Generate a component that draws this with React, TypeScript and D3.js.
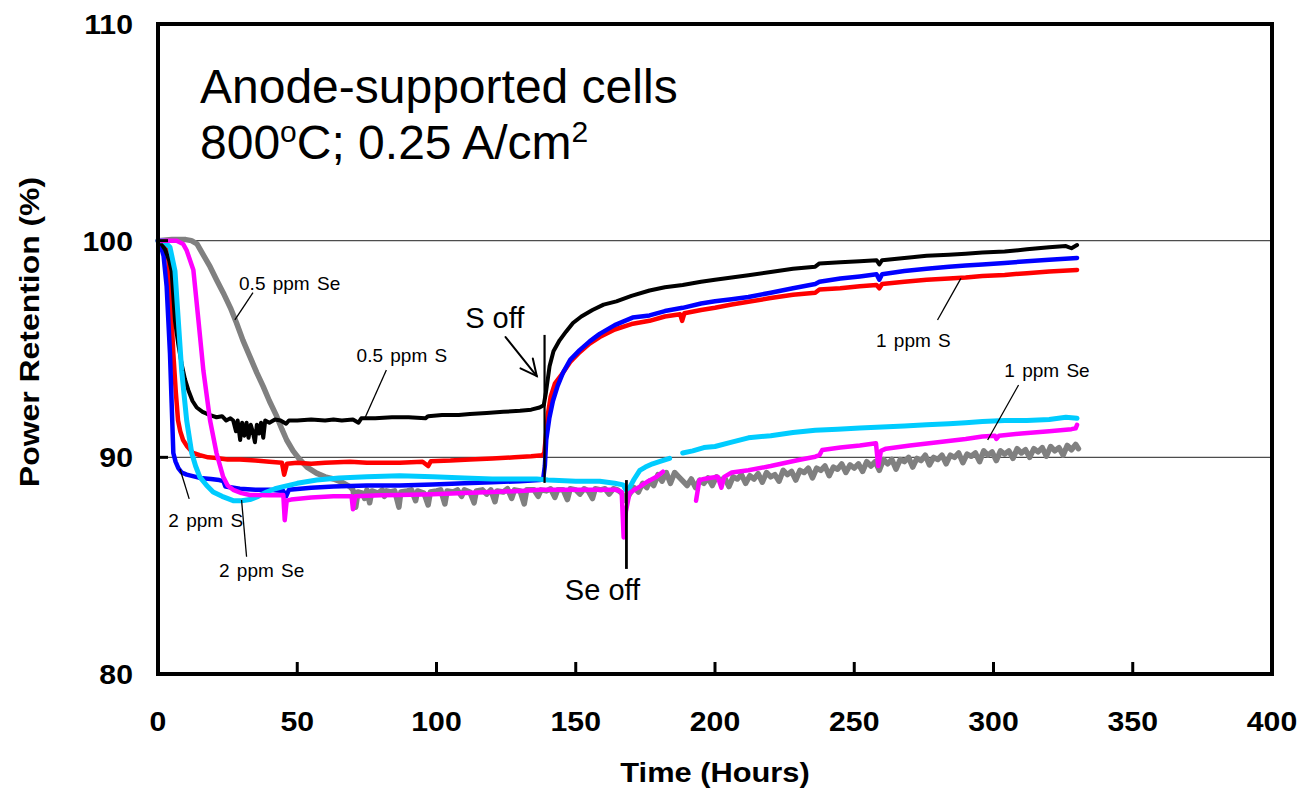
import React from 'react';
import * as d3 from 'd3';

type Pt = [number, number] | null;

// Axis ticks
const xTickValues = [0, 50, 100, 150, 200, 250, 300, 350, 400];
const yTickValues = [80, 90, 100, 110];
const gridValues = [90, 100];

// 0.5 ppm S (black)
const s05: Pt[] = [
  [0, 100], [1, 99.9], [2.5, 99.6], [4, 99.1], [4.9, 98.6], [6.1, 96.3], [7.3, 95.2], [8.5, 94.3], [9.7, 93.6],
  [10.9, 93.1], [12.4, 92.6], [13.9, 92.3], [16, 92.1], [18.7, 91.95], [21, 91.85], [23, 91.9], [24.5, 91.7],
  [26, 91.8], [27, 91.7], [28, 91.2], [28.6, 91.7], [29.5, 90.8], [30.2, 91.6], [31, 91.0], [31.8, 91.6],
  [32.5, 90.9], [33.3, 91.5], [34, 91.2], [34.8, 90.7], [35.5, 91.5], [36.3, 91.1], [37, 91.6], [37.8, 90.9],
  [38.5, 91.7], [40, 91.6], [42, 91.75], [44, 91.7], [46, 91.55], [47, 91.7], [50, 91.7], [55, 91.75],
  [60, 91.7], [63, 91.75], [66, 91.7], [70, 91.75], [72, 91.6], [73, 91.8], [78, 91.8], [84, 91.85],
  [90, 91.85], [96, 91.8], [97, 91.9], [102, 91.95], [108, 91.95], [112, 92.0], [118, 92.05], [124, 92.1],
  [130, 92.15], [134, 92.2], [137, 92.3], [138.5, 92.4], [139.3, 93.0], [140.6, 94.2], [142, 94.9],
  [144.2, 95.4], [146.5, 95.8], [149, 96.2], [152, 96.5], [156, 96.8], [160, 97.05], [164.6, 97.2],
  [170, 97.45], [176.5, 97.7], [182, 97.85], [188.4, 97.95], [195, 98.1], [200, 98.2], [206, 98.3],
  [212, 98.4], [220, 98.55], [228, 98.7], [236, 98.8], [237.5, 98.95], [245, 99.0], [252, 99.05],
  [258, 99.1], [259, 98.9], [260, 99.1], [268, 99.2], [276, 99.3], [284, 99.35], [290, 99.4], [296, 99.45],
  [304, 99.5], [312, 99.6], [320, 99.7], [326, 99.75], [328, 99.65], [330, 99.8],
];

// 1 ppm S (red)
const s1: Pt[] = [
  [0, 100], [1, 99.95], [2.5, 99.7], [3.6, 99.4], [4.3, 97.9], [5.5, 94.8], [6.4, 93.0], [7.2, 91.7],
  [8, 91.2], [9, 90.8], [10.5, 90.5], [12.6, 90.2], [15, 90.1], [18, 90.0], [21, 89.97], [25, 89.9],
  [29.4, 89.9], [35, 89.85], [40, 89.8], [44.5, 89.75], [45.3, 89.2], [46.3, 89.7], [50, 89.75], [55, 89.7],
  [60, 89.75], [69, 89.8], [75, 89.75], [80, 89.75], [86.8, 89.75], [95, 89.8], [97, 89.6], [98, 89.82],
  [105, 89.85], [112, 89.9], [120, 89.95], [128, 90.0], [134, 90.05], [138, 90.1], [138.7, 90.2],
  [139.3, 91.0], [140, 92.0], [141, 92.8], [142.5, 93.4], [145.4, 93.9], [148, 94.4], [151.4, 94.85],
  [155, 95.25], [158.6, 95.55], [164, 95.9], [170, 96.15], [176.5, 96.3], [182, 96.5], [187.5, 96.6],
  [188.2, 96.3], [189, 96.65], [195, 96.8], [200, 96.9], [206, 97.05], [212, 97.18], [220, 97.35],
  [228, 97.5], [236, 97.6], [237.5, 97.75], [245, 97.8], [252, 97.9], [258, 97.95], [259, 97.8],
  [260, 98.0], [268, 98.1], [276, 98.2], [284, 98.25], [290, 98.3], [296, 98.37], [304, 98.42],
  [312, 98.5], [320, 98.58], [330, 98.65],
];

// 2 ppm S (blue)
const s2: Pt[] = [
  [0, 100], [0.7, 99.9], [2, 99.3], [3.1, 97.9], [4.3, 94.8], [4.9, 92.5], [5.5, 90.2], [6.3, 89.8],
  [7.3, 89.5], [8.5, 89.3], [10.3, 89.2], [15, 89.05], [19, 89.0], [22, 88.95], [23.5, 88.9], [24.2, 88.65],
  [29.4, 88.55], [35, 88.5], [40, 88.5], [45, 88.45], [46, 88.2], [47, 88.5], [55, 88.6], [63, 88.65],
  [75, 88.7], [86.8, 88.7], [98.7, 88.75], [110, 88.8], [120, 88.85], [130, 88.9], [137, 88.95],
  [138.3, 89.0], [138.9, 89.6], [139.4, 90.8], [140.5, 91.8], [141.8, 92.6], [143.5, 93.3], [145.4, 93.9],
  [148, 94.5], [151.4, 94.95], [155, 95.35], [158.6, 95.7], [164, 96.1], [170.4, 96.45], [176.5, 96.55],
  [182, 96.75], [188.4, 96.9], [195, 97.1], [200, 97.2], [206, 97.3], [212, 97.4], [220, 97.6], [228, 97.8],
  [236, 98.0], [237.5, 98.1], [245, 98.25], [252, 98.35], [258, 98.45], [259, 98.2], [260, 98.45],
  [268, 98.6], [276, 98.7], [284, 98.8], [290, 98.85], [296, 98.9], [304, 98.97], [312, 99.05],
  [320, 99.12], [330, 99.2],
];

// 0.5 ppm Se (gray)
const se05: Pt[] = [
  [0, 100.0], [5, 100.05], [10, 100.05], [12, 100.0], [14, 99.85], [16, 99.4], [18.7, 98.8], [21, 98.2],
  [23.4, 97.6], [26, 96.9], [28.2, 96.2], [30.5, 95.4], [33, 94.65], [35.5, 93.9], [37.8, 93.26], [40, 92.6],
  [42.6, 91.9], [44.5, 91.3], [46.2, 90.8], [48.5, 90.3], [50.9, 89.9], [53.5, 89.55], [56.9, 89.27],
  [60, 89.1], [63, 89.0], [66, 88.85], [68.9, 88.65], [70, 88.5], [71, 87.7], [71.8, 88.4], [73.5, 88.35],
  [74.2, 88.1], [75, 88.5], [76, 87.9], [76.8, 88.45], [79, 88.35], [80.5, 88.5], [81.3, 88.2], [82, 88.45],
  [83.5, 88.4], [85, 88.45], [86.5, 87.7], [87.2, 88.4], [89.5, 88.45], [91, 88.5], [92.5, 88.0],
  [93.2, 88.45], [95.5, 88.35], [97, 87.8], [97.8, 88.4], [100, 88.45], [101.5, 88.5], [103, 87.85],
  [103.8, 88.45], [106, 88.4], [107.5, 88.5], [109, 88.2], [110, 88.5], [112, 88.4], [113.5, 87.9],
  [114.3, 88.45], [116.5, 88.5], [118, 88.3], [119.5, 88.5], [121, 87.95], [121.8, 88.45], [124, 88.4],
  [125.5, 88.55], [127, 88.1], [128, 88.5], [130, 88.45], [131.5, 87.85], [132.4, 88.5], [135, 88.5],
  [136.5, 88.2], [137.5, 88.5], [139.5, 88.45], [141, 88.55], [142.5, 88.15], [143.5, 88.5], [145.5, 88.5],
  [147, 88.05], [148, 88.55], [150, 88.5], [151.5, 88.3], [153, 88.55], [154.5, 88.45], [156, 88.1],
  [157, 88.55], [159, 88.5], [160.5, 88.55], [162, 88.3], [163.5, 88.55], [165, 88.5], [166.5, 88.35],
  [168, 88.0], [169.3, 88.3], [171, 88.6], [172.5, 88.4], [174, 88.8], [175.5, 88.6], [176.5, 88.9],
  [178, 88.7], [179.5, 89.2], [181, 88.9], [182.5, 89.3], [184, 88.8], [185.5, 89.3], [187, 89.1],
  [190, 88.7], [191.5, 89.0], [193, 88.6], [194.5, 88.95], [196, 88.8], [197.5, 89.05], [199, 88.7],
  [200.5, 89.1], [202, 88.95], [203.5, 89.05], [205, 88.65], [206.5, 89.1], [208, 89.0], [209.5, 89.2],
  [211, 88.8], [212.5, 89.15], [214, 89.0], [215.5, 89.25], [217, 88.85], [218.5, 89.3], [220, 89.1],
  [221.5, 89.2], [223, 88.9], [224.5, 89.4], [226, 89.2], [227.5, 89.35], [229, 88.95], [230.5, 89.4],
  [232, 89.3], [233.5, 89.5], [235, 89.05], [236.5, 89.5], [238, 89.4], [239.5, 89.6], [241, 89.15],
  [242.5, 89.55], [244, 89.45], [245.5, 89.7], [247, 89.3], [248.5, 89.65], [250, 89.5], [251.5, 89.7],
  [253, 89.35], [254.5, 89.8], [256, 89.6], [257.5, 89.8], [259, 89.4], [260.5, 89.9], [262, 89.7],
  [263.5, 89.9], [265, 89.45], [266.5, 89.9], [268, 89.8], [269.5, 90.0], [271, 89.55], [272.5, 89.95],
  [274, 89.85], [275.5, 90.1], [277, 89.65], [278.5, 90.0], [280, 89.9], [281.5, 90.1], [283, 89.7],
  [284.5, 90.1], [286, 90.0], [287.5, 90.2], [289, 89.75], [290.5, 90.15], [292, 90.05], [293.5, 90.2],
  [295, 89.8], [296.5, 90.3], [298, 90.1], [299.5, 90.25], [301, 89.85], [302.5, 90.3], [304, 90.15],
  [305.5, 90.3], [307, 89.95], [308.5, 90.4], [310, 90.2], [311.5, 90.35], [313, 90.0], [314.5, 90.4],
  [316, 90.25], [317.5, 90.45], [319, 90.05], [320.5, 90.5], [322, 90.3], [323.5, 90.45], [325, 90.1],
  [326.5, 90.55], [328, 90.35], [329.5, 90.6], [330.5, 90.4],
];

// 1 ppm Se (magenta) - data gap between the two segments
const se1: Pt[] = [
  [0, 100], [3, 100.0], [6.7, 100.0], [9, 99.85], [10.3, 99.55], [12.7, 98.65], [14.5, 96.35],
  [16.3, 94.0], [18.7, 91.7], [21, 90.2], [23.4, 89.1], [25, 88.7], [27, 88.5], [30, 88.35], [33, 88.26],
  [40, 88.25], [45, 88.26], [45.5, 87.1], [46.2, 88.0], [47.8, 88.05], [55, 88.15], [63, 88.2],
  [69.5, 88.2], [70, 87.6], [70.8, 88.2], [80, 88.25], [86.8, 88.26], [98.7, 88.3], [110, 88.35],
  [120, 88.4], [130, 88.45], [137, 88.5], [150, 88.5], [160, 88.5], [164.5, 88.5], [166.5, 88.4],
  [167.2, 86.3], [168, 87.5], [169.3, 88.35], [171, 88.5], [173, 88.65], [176, 88.9], [179, 89.1],
  [181.3, 89.34],
  null,
  [193.2, 88.0], [194.4, 88.95], [196, 89.0], [198, 89.05], [201, 89.1], [202.3, 88.6], [203.3, 89.1],
  [206, 89.3], [212, 89.4], [220, 89.6], [230, 89.88], [236, 90.03], [237.5, 90.1], [238.5, 90.34],
  [245, 90.45], [252, 90.55], [257.8, 90.65], [258.6, 89.6], [259.6, 90.3], [261.4, 90.4], [270, 90.55],
  [280, 90.7], [290, 90.85], [296, 90.96], [300.5, 91.0], [301, 90.85], [302, 91.0], [310, 91.1],
  [320, 91.2], [328, 91.3], [329.5, 91.34], [330, 91.5],
];

// 2 ppm Se (cyan) - data gap between the two segments
const se2: Pt[] = [
  [0, 100], [2, 100], [4.3, 99.7], [6.1, 98.6], [7.3, 96.3], [8.5, 94.0], [10.3, 91.7], [12.1, 90.2],
  [13.5, 89.6], [15, 89.1], [17.5, 88.7], [19.8, 88.4], [23, 88.2], [27, 88.0], [30, 88.0], [33, 88.05],
  [36, 88.2], [39, 88.4], [42, 88.55], [45, 88.65], [50, 88.8], [57, 88.95], [65, 89.05], [75, 89.1],
  [86.8, 89.15], [98.7, 89.1], [110, 89.05], [120, 89.0], [130, 89.0], [136, 89.0], [140, 88.95],
  [150, 88.9], [158.6, 88.9], [164, 88.8], [167, 88.73], [168, 88.5], [169.3, 88.6], [171, 89.0],
  [173, 89.4], [175, 89.55], [177.6, 89.7], [180, 89.8], [183.7, 89.95],
  null,
  [188.4, 90.2], [192, 90.3], [196, 90.45], [200, 90.5], [206, 90.7], [212, 90.9], [220, 91.0],
  [228, 91.15], [236, 91.25], [244, 91.3], [252, 91.35], [260, 91.4], [268, 91.45], [276, 91.5],
  [284, 91.55], [290, 91.6], [296, 91.65], [304, 91.7], [312, 91.7], [320, 91.75], [326, 91.85],
  [330, 91.8],
];

// Series in drawing order (later ones on top)
const seriesList = [
  { key: 'se05', data: se05, color: '#808080', width: 5.5 },
  { key: 's1', data: s1, color: '#ff0000', width: 4.5 },
  { key: 's2', data: s2, color: '#0000ff', width: 4.5 },
  { key: 's05', data: s05, color: '#000000', width: 4 },
  { key: 'se2', data: se2, color: '#00ccff', width: 5 },
  { key: 'se1', data: se1, color: '#ff00ff', width: 4.5 },
];

// Series labels with leader lines, in data units: [label, textX, textY, fromX, fromY, toX, toY]
const seriesLabels: [string, number, number, number, number, number, number][] = [
  ['0.5 ppm Se', 29.1, 97.72, 34.1, 97.6, 27.6, 96.34],
  ['0.5 ppm S', 71.3, 94.41, 82.0, 94.03, 74.3, 91.82],
  ['2 ppm S', 3.7, 86.8, 11.2, 88.08, 7.9, 89.46],
  ['2 ppm Se', 21.9, 84.48, 31.8, 85.41, 30.0, 88.03],
  ['1 ppm S', 257.8, 95.1, 279.9, 96.34, 288.3, 98.26],
  ['1 ppm Se', 303.9, 93.72, 309.0, 93.34, 297.9, 90.8],
];

// Event markers
const sOff = { hour: 138.8, top: 95.65, bottom: 88.82, textX: 120.9, textY: 95.97, arrow: [124.8, 95.55, 136.0, 93.75] };
const seOff = { hour: 168.2, top: 88.95, bottom: 84.85, textX: 159.6, textY: 83.42 };

const W = 1302;
const H = 790;
const M = { left: 158, right: 1272, top: 24, bottom: 674 };
const FONT = "'Liberation Sans', Arial, Helvetica, sans-serif";

export default function App() {
  const x = d3.scaleLinear().domain([0, 400]).range([M.left, M.right]);
  const y = d3.scaleLinear().domain([80, 110]).range([M.bottom, M.top]);

  const line = d3
    .line<Pt>()
    .defined((d) => d !== null)
    .x((d) => x((d as [number, number])[0]))
    .y((d) => y((d as [number, number])[1]));

  const bold = { fontWeight: 700 as const, fontFamily: FONT };

  // open arrowhead for the "S off" pointer
  const [ax1, ay1, ax2, ay2] = sOff.arrow;
  const p1 = [x(ax1), y(ay1)];
  const p2 = [x(ax2), y(ay2)];
  const ang = Math.atan2(p1[1] - p2[1], p1[0] - p2[0]);
  const wing = 18;
  const spread = (26 * Math.PI) / 180;
  const w1 = [p2[0] + wing * Math.cos(ang + spread), p2[1] + wing * Math.sin(ang + spread)];
  const w2 = [p2[0] + wing * Math.cos(ang - spread), p2[1] + wing * Math.sin(ang - spread)];

  return (
    <svg
      width={W}
      height={H}
      viewBox={`0 0 ${W} ${H}`}
      style={{ position: 'absolute', left: 0, top: 0, background: '#fff' }}
    >
      <rect x={0} y={0} width={W} height={H} fill="#fff" />

      {/* horizontal reference lines */}
      {gridValues.map((v) => (
        <line key={v} x1={M.left} x2={M.right} y1={y(v)} y2={y(v)} stroke="#4d4d4d" strokeWidth={1.2} />
      ))}

      {/* data curves */}
      <g fill="none" strokeLinejoin="round" strokeLinecap="round">
        {seriesList.map((s) => (
          <path key={s.key} d={line(s.data) || ''} stroke={s.color} strokeWidth={s.width} />
        ))}
      </g>

      {/* frame */}
      <rect
        x={M.left}
        y={M.top}
        width={M.right - M.left}
        height={M.bottom - M.top}
        fill="none"
        stroke="#000"
        strokeWidth={4}
      />

      {/* x ticks (inward) */}
      {xTickValues.slice(1, -1).map((t) => (
        <line key={t} x1={x(t)} x2={x(t)} y1={M.bottom} y2={M.bottom - 12} stroke="#000" strokeWidth={3} />
      ))}
      {/* y ticks (inward) */}
      {yTickValues.slice(1, -1).map((v) => (
        <line key={v} x1={M.left} x2={M.left + 10} y1={y(v)} y2={y(v)} stroke="#000" strokeWidth={3} />
      ))}

      {/* x tick labels */}
      {xTickValues.map((t) => (
        <text key={t} transform={`translate(${x(t)},731) scale(1.12,1)`} textAnchor="middle" fontSize={27} {...bold}>
          {t}
        </text>
      ))}
      {/* y tick labels */}
      {yTickValues.map((v) => (
        <text key={v} transform={`translate(133,${y(v) + 10}) scale(1.12,1)`} textAnchor="end" fontSize={27} {...bold}>
          {v}
        </text>
      ))}

      {/* axis titles */}
      <text transform={`translate(${(M.left + M.right) / 2},782) scale(1.1,1)`} textAnchor="middle" fontSize={28} {...bold}>
        Time (Hours)
      </text>
      <text transform={`translate(39,332) rotate(-90) scale(1.14,1)`} textAnchor="middle" fontSize={28} {...bold}>
        Power Retention (%)
      </text>

      {/* chart heading */}
      <g fontFamily={FONT} fontSize={48} fill="#000">
        <text x={200} y={103}>Anode-supported cells</text>
        <text x={200} y={159}>
          800
          <tspan fontSize={30} dy={-17}>o</tspan>
          <tspan dy={17}>C; 0.25 A/cm</tspan>
          <tspan fontSize={30} dy={-17}>2</tspan>
        </text>
      </g>

      {/* series labels */}
      <g fontFamily={FONT} fontSize={19} fill="#000">
        {seriesLabels.map(([label, tx, ty, fx, fy, lx, ly]) => (
          <g key={label}>
            <line x1={x(fx)} y1={y(fy)} x2={x(lx)} y2={y(ly)} stroke="#000" strokeWidth={1.3} />
            <text x={x(tx)} y={y(ty)} style={{ wordSpacing: '2px' }}>
              {label}
            </text>
          </g>
        ))}
      </g>

      {/* S off marker */}
      <line x1={x(sOff.hour)} x2={x(sOff.hour)} y1={y(sOff.top)} y2={y(sOff.bottom)} stroke="#000" strokeWidth={2.2} />
      <text x={x(sOff.textX)} y={y(sOff.textY)} textAnchor="middle" fontFamily={FONT} fontSize={29}>
        S off
      </text>
      <g stroke="#000" strokeWidth={2} fill="none" strokeLinecap="round">
        <line x1={p1[0]} y1={p1[1]} x2={p2[0]} y2={p2[1]} />
        <polyline points={`${w1[0]},${w1[1]} ${p2[0]},${p2[1]} ${w2[0]},${w2[1]}`} />
      </g>

      {/* Se off marker */}
      <line x1={x(seOff.hour)} x2={x(seOff.hour)} y1={y(seOff.top)} y2={y(seOff.bottom)} stroke="#000" strokeWidth={2.8} />
      <text x={x(seOff.textX)} y={y(seOff.textY)} textAnchor="middle" fontFamily={FONT} fontSize={29}>
        Se off
      </text>
    </svg>
  );
}
